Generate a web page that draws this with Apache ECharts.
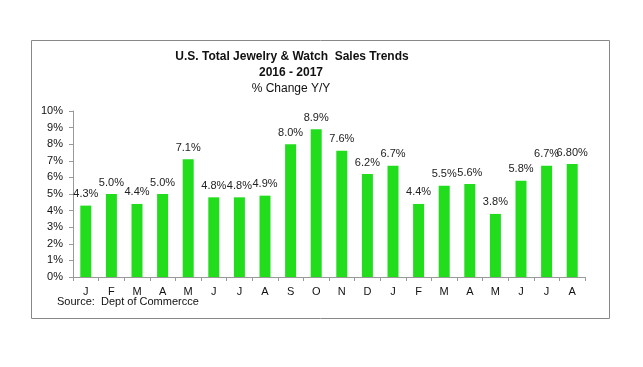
<!DOCTYPE html>
<html><head><meta charset="utf-8">
<script src="https://cdn.jsdelivr.net/npm/echarts@6/dist/echarts.min.js"></script>
<style>html,body{margin:0;padding:0;background:#fff}#c{width:643px;height:367px}</style>
</head><body><div id="c"></div>
<script>
const categories = ['J','F','M','A','M','J','J','A','S','O','N','D','J','F','M','A','M','J','J','A'];
const values = [4.3,5.0,4.4,5.0,7.1,4.8,4.8,4.9,8.0,8.9,7.6,6.2,6.7,4.4,5.5,5.6,3.8,5.8,6.7,6.8];
const valueLabels = ['4.3%','5.0%','4.4%','5.0%','7.1%','4.8%','4.8%','4.9%','8.0%','8.9%','7.6%','6.2%','6.7%','4.4%','5.5%','5.6%','3.8%','5.8%','6.7%','6.80%'];
const yTicks = [0,1,2,3,4,5,6,7,8,9,10];

const chart = echarts.init(document.getElementById('c'), null, {renderer:'canvas'});
const F = 'Liberation Sans, Arial, sans-serif';
chart.setOption({
  animation:false,
  graphic:[
    {type:'rect', shape:{x:31.5,y:40.5,width:578,height:278}, style:{fill:'none',stroke:'#888',lineWidth:1}},
    {type:'text', x:292, y:57, style:{text:'U.S. Total Jewelry & Watch  Sales Trends', font:'bold 12px '+F, fill:'#111', align:'center', verticalAlign:'middle'}},
    {type:'text', x:291, y:73, style:{text:'2016 - 2017', font:'bold 12px '+F, fill:'#111', align:'center', verticalAlign:'middle'}},
    {type:'text', x:291, y:89, style:{text:'% Change Y/Y', font:'12px '+F, fill:'#111', align:'center', verticalAlign:'middle'}},
    {type:'text', x:57, y:302, style:{text:'Source:  Dept of Commercce', font:'11px '+F, fill:'#111', align:'left', verticalAlign:'middle'}}
  ],
  grid:{left:73, right:58, top:111, bottom:90, containLabel:false},
  xAxis:{type:'category', data:categories,
    axisLine:{lineStyle:{color:'#999'}},
    axisTick:{show:true, alignWithLabel:false, length:4, lineStyle:{color:'#999'}},
    axisLabel:{color:'#111', fontFamily:F, fontSize:11, margin:9}},
  yAxis:{type:'value', min:0, max:10, interval:1,
    axisLine:{show:true, lineStyle:{color:'#999'}},
    axisTick:{show:true, length:4, lineStyle:{color:'#999'}},
    splitLine:{show:false},
    axisLabel:{color:'#111', fontFamily:F, fontSize:11, margin:10, formatter:v=>v+'%'}},
  series:[{type:'bar', data:values, barWidth:11, itemStyle:{color:'#22dd1c'},
    label:{show:true, position:'top', distance:6, color:'#222', fontFamily:F, fontSize:11,
      formatter:p=>valueLabels[p.dataIndex]}}]
});
</script></body></html>
